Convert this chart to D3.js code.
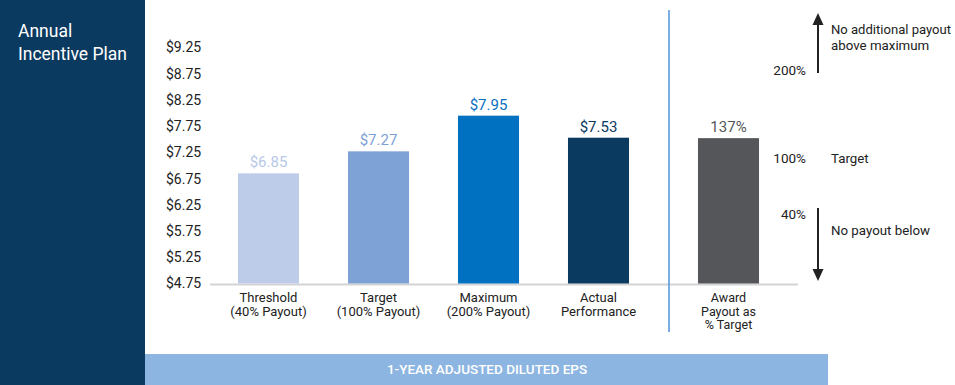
<!DOCTYPE html>
<html>
<head>
<meta charset="utf-8">
<script src="https://cdn.jsdelivr.net/npm/d3@7"></script>
<style>
  body { margin: 0; background: #fff; }
  svg { display: block; font-family: Roboto, "Open Sans", sans-serif; }
</style>
</head>
<body>
<div id="chart"></div>
<script>
// Data
var categories = ["Threshold", "Target", "Maximum", "Actual"];
var categoryLines = [["Threshold", "(40% Payout)"], ["Target", "(100% Payout)"], ["Maximum", "(200% Payout)"], ["Actual", "Performance"]];
var epsValues = [6.85, 7.27, 7.95, 7.53];
var epsLabels = ["$6.85", "$7.27", "$7.95", "$7.53"];
var payoutPoints = [40, 100, 200];
var awardPayout = 137;
var awardLines = ["Award", "Payout as", "% Target"];
var yTicks = [4.75, 5.25, 5.75, 6.25, 6.75, 7.25, 7.75, 8.25, 8.75, 9.25];

var barColors = ["#bdcce9", "#7fa2d6", "#0071c1", "#0b3a60"];
var labelColors = ["#b8c8e8", "#7c9fd4", "#0a71bf", "#0b3a60"];

var width = 955, height = 385;

var svg = d3.select("#chart").append("svg")
    .attr("width", width)
    .attr("height", height);

// left title panel
svg.append("rect").attr("x", 0).attr("y", 0).attr("width", 145).attr("height", height).attr("fill", "#0b3a60");
svg.append("text").attr("x", 18).attr("y", 36.5).attr("fill", "#fff").attr("font-size", 17.5).text("Annual");
svg.append("text").attr("x", 18).attr("y", 60).attr("fill", "#fff").attr("font-size", 17.5).text("Incentive Plan");

// bottom band
svg.append("rect").attr("x", 145).attr("y", 354).attr("width", 683).attr("height", 31).attr("fill", "#8cb5e1");
svg.append("text").attr("x", 487).attr("y", 369.5).attr("dy", "0.35em").attr("text-anchor", "middle")
    .attr("fill", "#fff").attr("font-size", 13.5).attr("font-weight", 500).text("1-YEAR ADJUSTED DILUTED EPS");

// scales
var y = d3.scaleLinear().domain([4.75, 9.25]).range([283.5, 47.5]);
var x = d3.scaleBand().domain(categories).range([213.5, 653.5]).paddingInner(0.445).paddingOuter(0.2225);
var xAward = d3.scaleBand().domain(["Award"]).range([673, 784]).paddingInner(0.45).paddingOuter(0.225);
// payout % -> equivalent EPS (piecewise through threshold, target, maximum)
var payoutToEps = d3.scaleLinear().domain(payoutPoints).range([epsValues[0], epsValues[1], epsValues[2]]);
// label positions of the payout scale on the right
var pctY = d3.scaleLinear().domain(payoutPoints).range([214, 158, 70]);

// y axis labels
var yAxis = svg.append("g").attr("transform", "translate(166,0)")
    .call(d3.axisLeft(y).tickValues(yTicks).tickSize(0).tickFormat(d3.format("$.2f")));
yAxis.select(".domain").remove();
yAxis.selectAll("text").attr("x", 0).attr("text-anchor", "start")
    .attr("font-family", "Roboto, sans-serif").attr("font-size", 14).attr("fill", "#222");

// baseline
svg.append("line").attr("x1", 210).attr("x2", 798).attr("y1", y(4.75) + 1).attr("y2", y(4.75) + 1)
    .attr("stroke", "#d3d3d3").attr("stroke-width", 2);

// EPS bars
svg.selectAll("rect.bar").data(categories).enter().append("rect")
    .attr("class", "bar")
    .attr("x", function(d) { return x(d); })
    .attr("width", x.bandwidth())
    .attr("y", function(d, i) { return y(epsValues[i]); })
    .attr("height", function(d, i) { return y(4.75) - y(epsValues[i]); })
    .attr("fill", function(d, i) { return barColors[i]; });

svg.selectAll("text.val").data(categories).enter().append("text")
    .attr("class", "val")
    .attr("x", function(d) { return x(d) + x.bandwidth() / 2; })
    .attr("y", function(d, i) { return y(epsValues[i]) - 6; })
    .attr("text-anchor", "middle").attr("font-size", 15)
    .attr("fill", function(d, i) { return labelColors[i]; })
    .text(function(d, i) { return epsLabels[i]; });

// category labels
categories.forEach(function(c, i) {
    var t = svg.append("text").attr("text-anchor", "middle").attr("font-size", 13).attr("fill", "#222");
    categoryLines[i].forEach(function(line, j) {
        t.append("tspan").attr("x", x(c) + x.bandwidth() / 2).attr("y", 302 + j * 14).text(line);
    });
});

// separator
svg.append("line").attr("x1", 669).attr("x2", 669).attr("y1", 10).attr("y2", 332)
    .attr("stroke", "#4f93d8").attr("stroke-width", 1.5);

// award bar
var awardEps = payoutToEps(awardPayout);
svg.append("rect")
    .attr("x", xAward("Award")).attr("width", xAward.bandwidth())
    .attr("y", y(awardEps)).attr("height", y(4.75) - y(awardEps))
    .attr("fill", "#55565a");
svg.append("text").attr("x", xAward("Award") + xAward.bandwidth() / 2).attr("y", y(awardEps) - 6)
    .attr("text-anchor", "middle").attr("font-size", 15).attr("fill", "#55565a").text(awardPayout + "%");
var at = svg.append("text").attr("text-anchor", "middle").attr("font-size", 12.5).attr("fill", "#222");
awardLines.forEach(function(line, j) {
    at.append("tspan").attr("x", xAward("Award") + xAward.bandwidth() / 2).attr("y", 302 + j * 13.5).text(line);
});

// payout scale labels
svg.selectAll("text.pct").data(payoutPoints).enter().append("text")
    .attr("class", "pct")
    .attr("x", 806).attr("y", function(d) { return pctY(d); }).attr("dy", "0.35em")
    .attr("text-anchor", "end").attr("font-size", 13.5).attr("fill", "#222")
    .text(function(d) { return d + "%"; });

var notes = svg.append("g").attr("font-size", 13.3).attr("fill", "#222");
notes.append("text").attr("x", 831).attr("y", pctY(100)).attr("dy", "0.35em").text("Target");
notes.append("text").attr("x", 831).attr("y", 29).attr("dy", "0.35em")
    .attr("textLength", 120).attr("lengthAdjust", "spacingAndGlyphs").text("No additional payout");
notes.append("text").attr("x", 831).attr("y", 45).attr("dy", "0.35em").text("above maximum");
notes.append("text").attr("x", 831).attr("y", 230).attr("dy", "0.35em").text("No payout below");

// arrows
function arrow(x0, yFrom, yTo) {
    var dir = yTo < yFrom ? -1 : 1;
    svg.append("line").attr("x1", x0).attr("x2", x0).attr("y1", yFrom).attr("y2", yTo - dir * 10)
        .attr("stroke", "#222").attr("stroke-width", 2);
    svg.append("path")
        .attr("d", d3.line()([[x0 - 5.5, yTo - dir * 12], [x0, yTo], [x0 + 5.5, yTo - dir * 12]]) + "Z")
        .attr("fill", "#222");
}
arrow(818, pctY(200) + 3, 13);
arrow(818, pctY(40) - 6, 281);
</script>
</body>
</html>
